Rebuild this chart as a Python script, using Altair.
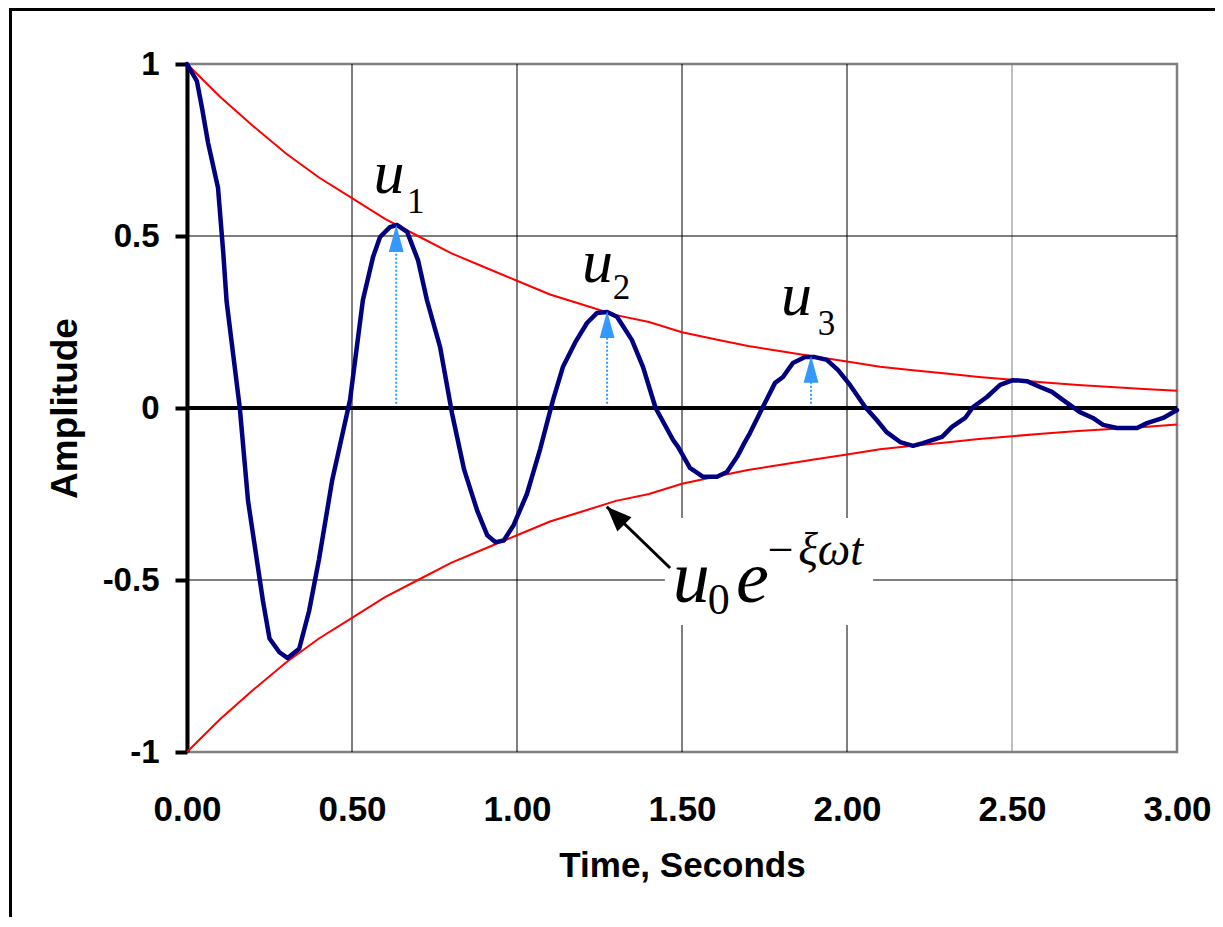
import altair as alt
import pandas as pd

# ---- data ----
t_resp = [0.0, 0.03, 0.045, 0.064, 0.094, 0.11, 0.12, 0.16, 0.185, 0.23, 0.25, 0.28, 0.305,
          0.34, 0.37, 0.40, 0.44, 0.494, 0.533, 0.564, 0.585, 0.615, 0.636, 0.667, 0.70,
          0.727, 0.767, 0.803, 0.84, 0.88, 0.91, 0.935, 0.96, 0.99, 1.03, 1.07, 1.109,
          1.139, 1.176, 1.212, 1.242, 1.273, 1.303, 1.348, 1.382, 1.42, 1.473, 1.488,
          1.524, 1.564, 1.606, 1.636, 1.667, 1.69, 1.706, 1.745, 1.782, 1.806, 1.836,
          1.873, 1.903, 1.939, 1.973, 2.009, 2.03, 2.055, 2.09, 2.12, 2.161, 2.2, 2.23,
          2.288, 2.318, 2.358, 2.382, 2.424, 2.464, 2.503, 2.545, 2.585, 2.621, 2.655,
          2.706, 2.745, 2.776, 2.818, 2.879, 2.909, 2.958, 3.0]
u_resp = [1.0, 0.95, 0.875, 0.77, 0.64, 0.45, 0.31, 0.0, -0.27, -0.56, -0.67, -0.71, -0.727,
          -0.70, -0.59, -0.44, -0.21, 0.023, 0.314, 0.44, 0.497, 0.526, 0.532, 0.512, 0.43,
          0.314, 0.177, -0.015, -0.18, -0.30, -0.37, -0.39, -0.385, -0.34, -0.25, -0.12,
          0.023, 0.119, 0.19, 0.247, 0.276, 0.279, 0.265, 0.198, 0.119, 0.0, -0.093,
          -0.113, -0.174, -0.2, -0.2, -0.186, -0.142, -0.10, -0.073, 0.003, 0.073, 0.09,
          0.131, 0.148, 0.148, 0.14, 0.11, 0.067, 0.038, 0.003, -0.035, -0.07, -0.099,
          -0.11, -0.102, -0.084, -0.055, -0.029, 0.003, 0.032, 0.067, 0.081, 0.078, 0.061,
          0.047, 0.023, -0.012, -0.029, -0.049, -0.058, -0.058, -0.044, -0.029, -0.006]

t_env = [0.0, 0.1, 0.2, 0.3, 0.4, 0.5, 0.6, 0.7, 0.8, 0.9, 1.0, 1.1, 1.2, 1.3, 1.4, 1.5,
         1.6, 1.7, 1.8, 1.9, 2.0, 2.1, 2.2, 2.3, 2.4, 2.5, 2.6, 2.7, 2.8, 2.9, 3.0]
env_upper = [1.0, 0.905, 0.82, 0.74, 0.67, 0.61, 0.55, 0.50, 0.45, 0.41, 0.37, 0.33, 0.30,
             0.27, 0.25, 0.22, 0.20, 0.18, 0.165, 0.15, 0.135, 0.12, 0.11, 0.10, 0.09,
             0.082, 0.074, 0.067, 0.061, 0.055, 0.05]
env_lower = [-1.0, -0.905, -0.82, -0.74, -0.67, -0.61, -0.55, -0.50, -0.45, -0.41, -0.37,
             -0.33, -0.30, -0.27, -0.25, -0.22, -0.20, -0.18, -0.165, -0.15, -0.135, -0.12,
             -0.11, -0.10, -0.09, -0.082, -0.074, -0.067, -0.061, -0.055, -0.048]

peak_t = [0.634, 1.273, 1.891]
peak_u = [0.532, 0.282, 0.152]
peak_base = [0.454, 0.206, 0.076]

x_ticks = [0.0, 0.5, 1.0, 1.5, 2.0, 2.5, 3.0]
y_ticks = [-1.0, -0.5, 0.0, 0.5, 1.0]
x_grid = [0.5, 1.0, 1.5, 2.0, 2.5]
x_grid_col = ["#000000", "#000000", "#000000", "#000000", "#808080"]
y_grid = [-0.5, 0.5]

lab_u_t = [0.565, 1.197, 1.80]
lab_u_v = [0.625, 0.366, 0.270]
lab_sub_t = [0.667, 1.290, 1.911]
lab_sub_v = [0.567, 0.317, 0.212]
lab_sub = ["1", "2", "3"]

# ---- tables ----
resp = pd.DataFrame({"t": t_resp, "u": u_resp})
env = pd.DataFrame({"t": t_env + t_env,
                    "v": env_upper + env_lower,
                    "s": ["up"] * len(t_env) + ["lo"] * len(t_env)})
peaks = pd.DataFrame({"t": peak_t, "u": peak_u, "b": peak_base, "z": [0.012] * 3})
xg = pd.DataFrame({"t": x_grid, "c": x_grid_col})
yg = pd.DataFrame({"v": y_grid})

X = alt.Scale(domain=[0, 3], nice=False, zero=False)
Y = alt.Scale(domain=[-1, 1], nice=False, zero=False)

base_x_axis = alt.Axis(values=x_ticks, format=".2f", grid=False, domain=False, ticks=False,
                       labelFlush=False, labelOverlap=False,
                       labelFont="Liberation Sans", labelFontSize=35, labelFontWeight="bold",
                       labelColor="black", labelPadding=40, title="Time, Seconds",
                       titleFont="Liberation Sans", titleFontSize=35, titleFontWeight="bold",
                       titleColor="black", titlePadding=21)
base_y_axis = alt.Axis(values=y_ticks, labelExpr="toString(datum.value)", grid=False,
                       labelFlush=False, labelOverlap=False,
                       domain=True, domainColor="black", domainWidth=4,
                       ticks=True, tickColor="black", tickWidth=4, tickSize=12,
                       labelFont="Liberation Sans", labelFontSize=33, labelFontWeight="bold",
                       labelColor="black", labelPadding=16, title="Amplitude",
                       titleFont="Liberation Sans", titleFontSize=37, titleFontWeight="bold",
                       titleColor="black", titlePadding=18)

grid_x = alt.Chart(xg).mark_rule(strokeWidth=1).encode(
    x=alt.X("t:Q", scale=X, axis=base_x_axis),
    color=alt.Color("c:N", scale=None))
grid_y = alt.Chart(yg).mark_rule(strokeWidth=1, color="black").encode(
    y=alt.Y("v:Q", scale=Y, axis=base_y_axis))

zero = alt.Chart(pd.DataFrame({"v": [0.0]})).mark_rule(color="black", strokeWidth=4).encode(
    y=alt.Y("v:Q", scale=Y))

envelope = alt.Chart(env).mark_line(color="#ff0000", strokeWidth=2).encode(
    x=alt.X("t:Q", scale=X), y=alt.Y("v:Q", scale=Y), detail="s:N")

response = alt.Chart(resp).mark_line(color="#000080", strokeWidth=4.5,
                                     strokeJoin="round", strokeCap="round").encode(
    x=alt.X("t:Q", scale=X), y=alt.Y("u:Q", scale=Y))

blue = "#3399ff"
dotted = alt.Chart(peaks).mark_rule(color=blue, strokeWidth=2, strokeDash=[2, 2]).encode(
    x=alt.X("t:Q", scale=X), y=alt.Y("z:Q", scale=Y), y2="b:Q")
heads = alt.Chart(peaks).mark_point(shape="M0,0L0.55,2L-0.55,2Z", size=729, filled=True,
                                    color=blue, opacity=1, strokeWidth=0).encode(
    x=alt.X("t:Q", scale=X), y=alt.Y("u:Q", scale=Y))

box = alt.Chart(pd.DataFrame({"t1": [1.448], "t2": [2.079], "v1": [-0.32], "v2": [-0.631]})
                ).mark_rect(color="white").encode(
    x=alt.X("t1:Q", scale=X), x2="t2:Q", y=alt.Y("v1:Q", scale=Y), y2="v2:Q")

arrow = pd.DataFrame({"t1": [1.464], "v1": [-0.465], "t2": [1.272], "v2": [-0.287]})
arrow_line = alt.Chart(arrow).mark_rule(color="black", strokeWidth=3).encode(
    x=alt.X("t1:Q", scale=X), x2="t2:Q", y=alt.Y("v1:Q", scale=Y), y2="v2:Q")
arrow_head = alt.Chart(arrow).mark_point(shape="M0,0L0.8,2L-0.8,2Z", size=625, filled=True,
                                         color="black", opacity=1, angle=315,
                                         strokeWidth=0).encode(
    x=alt.X("t2:Q", scale=X), y=alt.Y("v2:Q", scale=Y))


def label(df, size, style):
    return alt.Chart(df).mark_text(font="Liberation Serif", fontSize=size, fontStyle=style,
                                   align="left", baseline="alphabetic", color="black").encode(
        x=alt.X("t:Q", scale=X), y=alt.Y("v:Q", scale=Y), text="s:N")


u_labels = label(pd.DataFrame({"t": lab_u_t, "v": lab_u_v, "s": ["u"] * 3}), 62, "italic")
sub_labels = label(pd.DataFrame({"t": lab_sub_t, "v": lab_sub_v, "s": lab_sub}), 35, "normal")
eq_big = label(pd.DataFrame({"t": [1.472, 1.664], "v": [-0.564, -0.564], "s": ["u", "e"]}),
               74, "italic")
eq_sub = label(pd.DataFrame({"t": [1.578], "v": [-0.598], "s": ["0"]}), 44, "normal")
eq_minus = label(pd.DataFrame({"t": [1.760], "v": [-0.456], "s": ["−"]}), 46, "normal")
eq_sup = label(pd.DataFrame({"t": [1.852], "v": [-0.456], "s": ["ξωt"]}), 46, "italic")

frame_left = alt.Chart(pd.DataFrame({"k": [0]})).mark_rule(color="black", strokeWidth=3).encode(
    x=alt.value(-176.5), y=alt.value(-56), y2=alt.value(853))
frame_top = alt.Chart(pd.DataFrame({"k": [0]})).mark_rule(color="black", strokeWidth=3).encode(
    x=alt.value(-178), x2=alt.value(1028), y=alt.value(-54.5))

chart = alt.layer(
    grid_x, grid_y, envelope, zero, response, dotted, heads, box, arrow_line, arrow_head,
    u_labels, sub_labels, eq_big, eq_sub, eq_minus, eq_sup, frame_left, frame_top
).properties(
    width=990, height=688,
    autosize=alt.AutoSizeParams(type="none"),
    padding={"left": 179, "top": 56, "right": 38, "bottom": 165},
    background="white",
).configure_view(stroke="#808080", strokeWidth=2.5)

chart.save("out.html", embed_options={"renderer": "svg", "actions": False})
